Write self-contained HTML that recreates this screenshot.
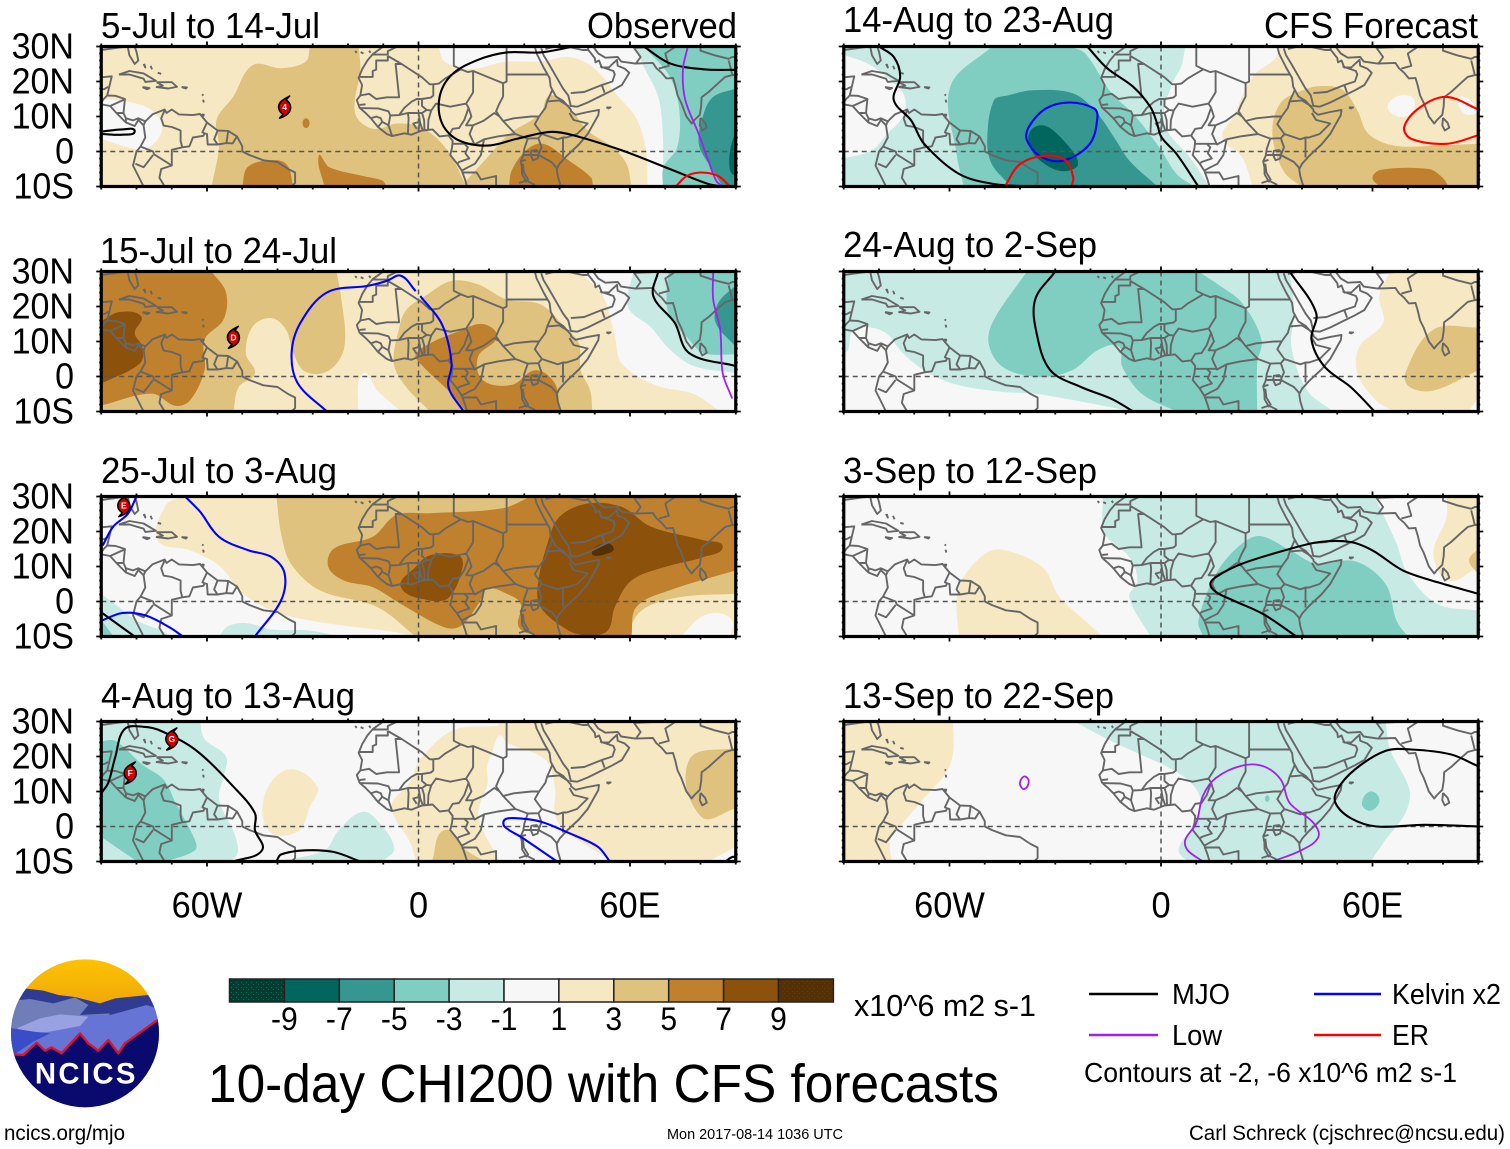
<!DOCTYPE html>
<html lang="en">
<head>
<meta charset="utf-8">
<title>10-day CHI200 with CFS forecasts</title>
<style>
html,body{margin:0;padding:0;background:#fff}
svg{display:block}
text{font-family:"Liberation Sans",sans-serif;fill:#000}
</style>
</head>
<body>
<svg id="figure" xmlns="http://www.w3.org/2000/svg" width="1510" height="1149" viewBox="0 0 1510 1149">
  <defs>
    <pattern id="speck-dark" width="5" height="5" patternUnits="userSpaceOnUse"><rect width="5" height="5" fill="#003c30"/><rect x="1" y="2" width="1" height="1" fill="#0d6b5c"/><rect x="3" y="4" width="1" height="1" fill="#0d6b5c"/></pattern>
    <pattern id="speck-brown" width="5" height="5" patternUnits="userSpaceOnUse"><rect width="5" height="5" fill="#543005"/><rect x="2" y="1" width="1" height="1" fill="#6b3a10"/><rect x="4" y="3" width="1" height="1" fill="#6b3a10"/></pattern>
    <clipPath id="logo-clip"><circle cx="255" cy="250" r="222"/></clipPath>
    <linearGradient id="logo-sun" x1="0" y1="0" x2="0" y2="1"><stop offset="0" stop-color="#ffc400"/><stop offset="1" stop-color="#efa60a"/></linearGradient>
  </defs>

  <g id="panels"></g>

  <g font-size="36">
    <text x="101" y="38" textLength="219" lengthAdjust="spacingAndGlyphs">5-Jul to 14-Jul</text>
    <text x="587" y="38" textLength="150" lengthAdjust="spacingAndGlyphs">Observed</text>
    <text x="100" y="263" textLength="237" lengthAdjust="spacingAndGlyphs">15-Jul to 24-Jul</text>
    <text x="101" y="483" textLength="236" lengthAdjust="spacingAndGlyphs">25-Jul to 3-Aug</text>
    <text x="101" y="708" textLength="254" lengthAdjust="spacingAndGlyphs">4-Aug to 13-Aug</text>
    <text x="843" y="32" textLength="271" lengthAdjust="spacingAndGlyphs">14-Aug to 23-Aug</text>
    <text x="1264" y="38" textLength="214" lengthAdjust="spacingAndGlyphs">CFS Forecast</text>
    <text x="843" y="257" textLength="254" lengthAdjust="spacingAndGlyphs">24-Aug to 2-Sep</text>
    <text x="843" y="483" textLength="254" lengthAdjust="spacingAndGlyphs">3-Sep to 12-Sep</text>
    <text x="843" y="708" textLength="271" lengthAdjust="spacingAndGlyphs">13-Sep to 22-Sep</text>
  </g>

  <g id="logo" transform="translate(0 950) scale(0.3333)">
    <g clip-path="url(#logo-clip)">
      <rect x="20" y="20" width="480" height="150" fill="url(#logo-sun)"/>
      <path fill="#2f3c92" d="M0 140L75 115L130 122L175 135L225 141L300 160L345 145L445 135L500 170V330H0Z"/>
      <path fill="#6f7db8" d="M20 170L60 150L90 147L160 160L225 142L265 165L240 195L330 190L300 240L0 300Z"/>
      <path fill="#6674d6" d="M20 320L120 255L265 195L330 195L440 165L500 185V340H20Z"/>
      <path fill="#98a2e2" d="M50 235L120 205L180 193L265 200L240 228L150 245L90 250Z"/>
      <path fill="#3a4cc6" d="M20 232L100 245L150 250L100 275L45 312H20Z"/>
      <path fill="#0a0a6e" d="M20 312L70 315L110 278L135 302L155 292L185 310L240 250L265 280L295 302L325 270L355 310L375 280L500 190V500H20Z"/>
      <path fill="none" stroke="#e2122a" stroke-width="7" stroke-linejoin="round" d="M20 312L70 315L110 278L135 302L155 292L185 310L240 250L265 280L295 302L325 270L355 310L375 280L500 190"/>
    </g>
    <text x="259" y="400" text-anchor="middle" font-size="88" font-weight="700" letter-spacing="7" style="fill:#fff">NCICS</text>
  </g>

  <g id="colorbar"></g>

  <text x="854" y="1016" font-size="31" textLength="182" lengthAdjust="spacingAndGlyphs">x10^6 m2 s-1</text>
  <text x="208" y="1102" font-size="54" textLength="791" lengthAdjust="spacingAndGlyphs">10-day CHI200 with CFS forecasts</text>

  <g font-size="29">
    <line x1="1089" y1="994" x2="1158" y2="994" stroke="#000" stroke-width="2.4"/>
    <text x="1172" y="1004" textLength="58" lengthAdjust="spacingAndGlyphs">MJO</text>
    <line x1="1314" y1="994" x2="1381" y2="994" stroke="#0000ff" stroke-width="2.4"/>
    <text x="1392" y="1004" textLength="109" lengthAdjust="spacingAndGlyphs">Kelvin x2</text>
    <line x1="1089" y1="1035" x2="1158" y2="1035" stroke="#a020f0" stroke-width="2.4"/>
    <text x="1172" y="1045" textLength="50" lengthAdjust="spacingAndGlyphs">Low</text>
    <line x1="1314" y1="1035" x2="1381" y2="1035" stroke="#ff0000" stroke-width="2.4"/>
    <text x="1392" y="1045" textLength="37" lengthAdjust="spacingAndGlyphs">ER</text>
    <text x="1084" y="1082" font-size="28" textLength="373" lengthAdjust="spacingAndGlyphs">Contours at -2, -6 x10^6 m2 s-1</text>
  </g>

  <text x="4" y="1140" font-size="21" textLength="121" lengthAdjust="spacingAndGlyphs">ncics.org/mjo</text>
  <text x="667" y="1139" font-size="14.5" textLength="176" lengthAdjust="spacingAndGlyphs">Mon 2017-08-14 1036 UTC</text>
  <text x="1189" y="1140" font-size="21" textLength="316" lengthAdjust="spacingAndGlyphs">Carl Schreck (cjschrec@ncsu.edu)</text>
</svg>

<script>
/* ---------- legend / axis values ---------- */
const bandLevels = [-9, -7, -5, -3, -1, 0, 1, 3, 5, 7, 9];
const bandColors = ['#003c30', '#01665e', '#35978f', '#80cdc1', '#c7eae5', '#f7f7f7', '#f6e8c3', '#dfc27d', '#bf812d', '#8c510a', '#543005'];
const colorbarLabels = ['-9', '-7', '-5', '-3', '-1', '1', '3', '5', '7', '9'];
const latTicks = [30, 20, 10, 0, -10];
const latTickLabels = ['30N', '20N', '10N', '0', '10S'];
const lonTicks = [-60, 0, 60];
const lonTickLabels = ['60W', '0', '60E'];

/* ---------- geography (lon, lat) ---------- */
const coastlines = [
  [[-90,21.2],[-87,21.5],[-87.5,19.5],[-88.3,16],[-86,15.9],[-83.3,15],[-83.7,11],[-83,9.5],[-81,8.9],[-79.5,9.5],[-77.5,8.6],[-75.5,10.6],[-74,11.2],[-72,12],[-71.5,11],[-70,12],[-68,10.6],[-64,10.4],[-62,10.7],[-60,8.3],[-57,6],[-54,5.9],[-51.5,4.3],[-50,1.5],[-50,0],[-48,-1],[-44,-2.5],[-40,-3],[-37,-5],[-35,-6],[-35,-9],[-36,-10]],
  [[-90,29],[-85,29.7],[-82.5,30]],
  [[-82.5,30],[-82,27.5],[-80.5,25],[-79.5,26],[-80,28.5],[-80.5,30]],
  [[-90,13.5],[-87.5,13],[-85.7,11],[-83,8.3],[-80.5,7.3],[-79.5,9],[-78,7.5],[-77.5,4],[-78.8,1.5],[-80,0],[-81,-4],[-79.5,-7],[-78,-10]],
  [[-85,22],[-82,23],[-78,22.3],[-74.5,20.2],[-77.5,19.9],[-78,20.8],[-82,22],[-85,22]],
  [[-74.3,19.8],[-70,19.8],[-68.5,18.5],[-71,18],[-74.3,18.4],[-72.5,18.8],[-74.3,19.8]],
  [[-78.3,18.4],[-76.3,18.1],[-77,17.8],[-78.3,18.4]],
  [[-67.2,18.4],[-65.7,18.3],[-66,18],[-67.2,18.4]],
  [[-78,25],[-77.5,24],[-77.8,25]],[[-76,24.5],[-75.6,23.5]],[[-74,22.5],[-73,22.2]],
  [[-61.4,16.3],[-61,16]],[[-61.1,14.8],[-60.9,14]],
  [[-61.5,10.7],[-61,10.2],[-60.9,10.8]],
  [[-10,30],[-13,27.8],[-14.5,26],[-16,23.5],[-17,21],[-16,19],[-16.5,16],[-17.5,14.7],[-16.7,12.5],[-15,11],[-13.5,9.5],[-11.5,7],[-9,5],[-7.5,4.4],[-4,5.2],[-2,4.8],[1,6],[4,6.3],[6,4.3],[8.5,4.6],[9.7,3],[9.5,1],[9,-1],[11,-3.5],[12.3,-5.5],[13.2,-8],[13.8,-10]],
  [[33,30],[33.5,28],[34,27],[35.5,24],[37.2,21],[37.5,18.5],[39,15.7],[41,14.5],[43.2,12],[43.3,11.5],[44.5,10.5],[48,11.3],[51.2,11.9],[51,10.4],[48,5],[45.5,2],[42,-1.3],[40,-3.5],[39.2,-5],[39.5,-7],[40.4,-10]],
  [[34.8,29.5],[35.5,27.5],[37,25],[39,21.5],[41,18],[42.5,16],[43.2,13],[45,12.8],[48,14],[52,16],[55,17.5],[57.7,19],[59.8,22.5],[58.5,23.7],[56.5,24.5],[56.3,26.2],[55,25],[54,24],[52,24],[51.2,26],[50.2,25.5],[50,26.7],[48.2,29],[48,30]],
  [[49.5,30],[51,28],[53,26.8],[56.5,27],[57.5,25.7],[61.5,25.1],[66.5,25.3],[67.5,23.8],[69,22.5],[70.3,20.9],[72.2,21],[72.8,19],[73.5,16],[74.5,14],[76,10],[77.5,8],[78.3,9],[79.8,10.5],[80.2,13],[80.3,15.5],[82.3,17],[85,19.5],[87,21.3],[88.5,21.7],[90,22]],
  [[80,9.6],[81.3,8.2],[81.8,6.8],[80.5,6],[79.8,7.5],[80,9.6]],
  [[53.3,12.6],[54.5,12.6],[53.9,12.3],[53.3,12.6]],
  [[-18,28.7],[-17.5,28.2]],[[-16.4,28.4],[-15.6,28]],[[-14,28.8],[-13.6,28.2]],
  [[31.8,-1],[32,0.2],[33.5,0.4],[34.2,-0.3],[33.8,-2],[32.5,-2.5],[31.8,-1]],
  [[29.3,-3.5],[29.4,-6.5],[30.6,-8.6],[31.1,-8],[29.9,-6],[29.6,-3.5]],
  [[0,6],[0.3,8.5],[-1.5,8],[-0.5,6.5]]
];
const borders = [
  [[-72,11.8],[-73,9.5],[-72.3,7.4],[-70,7],[-67.5,6],[-67.5,3],[-67,1.2],[-70,0.5],[-70,-4]],
  [[-78.8,1.4],[-75.3,0],[-75,-0.8],[-70,-4],[-73,-5],[-73.5,-7.5],[-72,-10]],
  [[-80.3,-3.5],[-78,-4.5],[-75.3,-1]],
  [[-67,1.2],[-65,1.5],[-64,4],[-61,4.5],[-60.7,5.2],[-61.3,5.5],[-60,8.3]],
  [[-60.7,5.2],[-60,5],[-59.8,2],[-57,2],[-54.5,2.4],[-52.7,2.3],[-51.5,4.3]],
  [[-57,6],[-58,3.5],[-57,2]],[[-54,5.8],[-54.5,2.4]],
  [[-83.7,11],[-85.7,11]],[[-83.1,15],[-87.5,13]],[[-88.3,16],[-89.3,15],[-90,14]],[[-83,9.5],[-83,8.3]],[[-77.5,8.6],[-78,7.5]],[[-88,18.5],[-89.2,17.8],[-90,17.8]],
  [[-13,27.7],[-8.7,27.7],[-8.7,28.7],[-6,30]],
  [[-8.7,27.3],[-8.7,26],[-12,26],[-12,23.4],[-13,23],[-13,21.3],[-17,21.3]],
  [[-8.7,27.3],[-4.8,25],[-6.5,25],[-5.5,15.5],[-9,15.5],[-12,15],[-14,16.5],[-16.5,16]],
  [[-4.8,25],[1,21.2],[3.2,19.2],[4.2,19.2],[5.8,19.4],[7.5,20.8],[12,23.5],[14,22.7],[15.5,23]],
  [[12,23.5],[10,24.5],[10,30]],
  [[4.2,19.2],[4.2,16],[3.5,15.4],[1,15],[-0.5,15],[-2,14.2],[-4,12.5],[-5.5,10.4],[-8,10.3],[-8.5,11.5],[-11.5,12.3],[-16.7,12.4]],
  [[-16.7,13.3],[-15,13.5]],
  [[-13.5,9.5],[-12,10],[-10.7,9.5],[-10.3,8.5],[-11.5,7]],[[-10.3,8.5],[-8.5,7.5],[-7.5,4.4]],[[-8,10.3],[-8.5,7.5]],
  [[-3,5],[-2.8,9.5],[-3,11]],[[-5.5,10.4],[-3,11],[1,11],[2.3,11.9],[1,13],[1,15]],
  [[1.2,6.1],[0.5,8],[0,11]],[[1.7,6.2],[1.6,9],[1,11]],[[2.7,6.3],[2.8,9],[3.6,11.7]],
  [[2.3,11.9],[3.6,11.7],[5,13.7],[9,12.8],[13.5,13.7]],
  [[8.6,4.6],[9.7,6.5],[11.5,6.7],[13,9],[14.2,12.5],[13.5,13.7],[15.5,16.9],[15.5,23],[24,19.5],[25,20],[25,30]],
  [[24,19.5],[24,15.7],[22.9,13.6],[22,11.5],[23,10],[24,8.7],[27.5,5]],
  [[14.2,12.5],[15,10],[13.5,7.5],[15.5,7.5],[18.5,8.8],[21.5,11],[23,10]],
  [[25,22],[36.8,22]],
  [[15.5,7.5],[14.5,5],[15.9,2],[18.6,3.5],[22.5,4.3],[27.5,5],[31,3.7],[34,3.8],[35,5]],
  [[9.8,2.2],[16,2.2]],[[13,2.2],[14,1.2],[13.3,-0.5],[14.4,-2],[11.5,-3],[11,-3.5]],
  [[18.6,3.5],[17.7,-1],[16,-3.5],[14,-4.5],[12.2,-5.5]],
  [[24,8.7],[27,9.5],[32,10],[34.2,10]],
  [[38,17.7],[36.5,14.3],[36,12.5],[34.2,10],[33,7.8],[35,5],[39.5,3.5],[41,4],[42,4],[45,5],[48,8],[44,9],[42.8,11]],
  [[36.5,14.3],[40,14.6],[42.8,12.8]],
  [[41,4],[41,-1.7]],
  [[34,3.8],[34.9,1.2],[34,-1],[37.7,-3],[39.2,-4.7]],
  [[31,3.7],[30,0.8],[29.7,-1.2],[29,-2.8],[29.3,-4.3]],[[29.7,-1],[34,-1]],[[30.5,-2.4],[29,-2.8]],
  [[12.2,-6],[16.5,-6],[17.7,-8],[22,-7],[22,-10]],[[28.5,-9],[30.7,-8.3]],[[31,-8.5],[33,-9.5]],
  [[36,29.3],[39,30]],[[42,30],[46.5,29],[48,29]],
  [[43.2,16.7],[47,17],[52,19],[55,20],[55.7,22],[55.3,23],[51.5,24.3]],[[52.8,16.8],[52,19]],
  [[61.6,25],[63,27],[61,29.8],[60.9,30]],[[61,29.6],[66,29.8],[67,30]],
  [[68.2,23.7],[71,24.5],[70,28],[73,30]],
  [[80,30],[80,28.8],[84,27.5],[88,26.5],[89,27],[90,27]],[[88,26],[88.5,24],[89,22]]
];

/* ---------- panel: 5-Jul to 14-Jul ---------- */
const jul05Levels = [1, 0, 3, 3, 5, 5, 5, 5, -1, -3, -5, -7];
const jul05Rings = [
  [[5.7,30],[7.4,25.7],[14.8,23.6],[25,25.7],[34.6,25.7],[42.7,27],[49.6,24],[56.4,16],[61.8,9.5],[64.5,.6],[65,-10],[-90,-10],[-90,30]],
  [[-90,15],[-82.5,14.2],[-75.7,11.8],[-72.7,6.5],[-77,.8],[-82.5,1.2],[-90,3.6]],
  [[-30.8,30],[-17,30],[-16.5,23.3],[-18,11],[-13,6.5],[-6,8],[.5,7],[6,3],[10,-2.6],[13.5,-10],[-58.7,-10],[-56.6,1.2],[-57.3,9],[-52.6,15.6],[-47,24.7],[-39,23.8],[-32,25.7]],
  [[37.3,16],[42.7,12.7],[48,6],[55,1.2],[59,-3.5],[60.4,-10],[12,-10],[19.6,-1.6],[25.7,5],[34.6,10.8]],
  [[-50,-10],[-48.5,-4.5],[-43,-2.6],[-37.6,-3.5],[-35.5,-10]],
  [[-28.3,-1.2],[-25.3,-4.5],[-15.8,-7],[-10.3,-8.3],[-9,-10],[-26.7,-10]],
  [[25.7,-10],[26.4,-5.5],[30.5,.3],[35.3,2.2],[42.7,-2.6],[48.9,-7.4],[49.5,-10]],
  [[-31.9,9.5],[-30.9,8.1],[-31.9,6.7],[-32.9,8.1]],
  [[61.1,30],[63.9,24.2],[68,15.6],[69.3,5],[69.3,-10],[90,-10],[90,30]],
  [[63.9,30],[71.3,21.4],[74,11.8],[73.4,1.2],[69.5,-4.5],[69.3,-10],[90,-10],[90,30]],
  [[90,18],[83.6,15.6],[80.9,10.8],[79.5,2.2],[82.9,-4.5],[86.3,-10],[90,-10]],
  [[90,6],[88.4,.3],[88.4,-5.5],[90,-7.4]]
];
const jul05LineKinds = ['mjo', 'mjo', 'mjo', 'low', 'er'];
const jul05Lines = [
  [[63.9,30],[71.3,25.2],[80.9,23.5],[90,23.3]],
  [[44,30],[34.6,28.3],[25,28.3],[16.9,26.2],[9.4,21.9],[6,15.6],[6.7,8],[11.4,3.2],[19.6,1.7],[27.8,3.6],[37.3,5.6],[44,4.6],[57.7,.3],[71.3,-5],[82.2,-9.3],[86.3,-10]],
  [[-90,5.7],[-84,6.3],[-80.5,5.8],[-84,4.8],[-90,5]],
  [[76.4,30],[75,23.3],[75.7,14.7],[79.5,5],[82.2,-2.6],[84.5,-8.4],[86.3,-10]],
  [[73,-10],[76.1,-7],[80.2,-6],[85,-7],[88.4,-10]]
];
const jul05StormLabels = ['4'];
const jul05StormLons = [-38];
const jul05StormLats = [12.7];

/* ---------- panel: 15-Jul to 24-Jul ---------- */
const jul15Levels = [1, 0, 3, 3, 5, 7, 5, -1, -3, -5];
const jul15Rings = [
  [[45.5,30],[52.3,23],[55.7,11.4],[57.7,3.7],[67.3,-2.5],[78.1,-5],[85.6,-10],[-90,-10],[-90,30]],
  [[-17.2,-10],[-15.8,.9],[-11.7,-4],[-4.9,-10]],
  [[-90,30],[-23.3,30],[-22,23],[-21,8.6],[-25.3,1.8],[-32,1.3],[-35.5,6.6],[-37.6,13.4],[-41.7,16.7],[-47,14.3],[-49,6.6],[-46.4,.9],[-51,-3],[-52.5,-10],[-90,-10]],
  [[9.4,27.3],[16.9,26.3],[25,22],[34.6,20.6],[41.3,14.3],[45.5,9.5],[46,1.8],[48.7,-4],[49.3,-10],[3.3,-10],[-3.5,-3],[-7,3.7],[-5.6,13.4],[-3.5,19],[1.9,23]],
  [[-58.7,30],[-54.6,24],[-55.3,16.3],[-60.7,10.5],[-60.7,1.8],[-64.8,-6.8],[-68.9,-8.4],[-75.7,-4.9],[-90,-8.3],[-90,30]],
  [[-90,15.8],[-85,18.4],[-78.7,17.2],[-80.5,12.4],[-78.4,8.6],[-79,3.8],[-90,-2]],
  [[18.2,15],[22.3,11.4],[16.9,5.7],[18.2,-1],[26.4,-2.4],[33.2,1.8],[38.7,-2],[40,-10],[13.5,-10],[9.4,-5],[.5,3.7],[-.8,6.2],[3.3,9.5],[11.4,12.9]],
  [[61,30],[59.4,20],[66,14],[71,8],[78,3],[90,1],[90,30]],
  [[71,30],[70.4,25],[71,18],[76.8,10.5],[80.9,6.7],[90,6.3],[90,30]],
  [[90,26],[85,21],[84.3,15.3],[90,8.5]]
];
const jul15LineKinds = ['mjo', 'low', 'kelvin', 'kelvin'];
const jul15Lines = [
  [[68,30],[66.6,23],[72.7,15.3],[76.8,6.7],[90,3]],
  [[83.6,30],[83.6,22],[85.6,13.4],[86.3,1],[89,-6.3]],
  [[-26,-10],[-34.2,-2],[-36,6.6],[-33.5,15.3],[-26,24],[-14.4,25.9],[-9,27.3],[-5,28.8],[-.8,24.4]],
  [[.5,23],[6.7,14.8],[9.4,3.7],[8.5,-3],[12.8,-10]]
];
const jul15StormLabels = ['D'];
const jul15StormLons = [-52.5];
const jul15StormLats = [11.2];

/* ---------- panel: 25-Jul to 3-Aug ---------- */
const jul25Levels = [1, 0, 3, 5, 7, 7, 9, -1, -1, -3];
const jul25Rings = [
  [[-66.9,30],[-71.6,27.6],[-74,17.5],[-64.8,14.6],[-56.6,10.3],[-49.8,2.2],[-39,-3.5],[-24,-6.5],[-6.3,-8.8],[-2,-10],[90,-10],[90,30]],
  [[74.5,-10],[80,-4.5],[85,-3.3],[89,-5.5],[88.5,-10]],
  [[-40.3,30],[-39,19.5],[-36.2,10.8],[-28,3.2],[-11.7,-1.6],[-.8,-10],[59,-10],[63.2,-2.6],[74,1.2],[90,2.2],[90,30]],
  [[31.9,30],[23.7,26.6],[3.3,25.2],[-6.3,24.7],[-13,18.5],[-24,15.1],[-25.6,9.9],[-21.2,6],[-13,4.1],[-5,-.7],[7.4,-7.4],[12,-7],[17,-.7],[19.6,3.6],[25,2.2],[29,-.7],[28.5,-7.4],[34.6,-10],[60.4,-10],[61.8,-1.6],[71.3,3.2],[90,8.9],[90,30]],
  [[3.3,13.2],[11.4,13.2],[12.5,9.9],[8.7,1.2],[3.3,.3],[-5,4.1],[-.8,9.9]],
  [[48,28],[57.7,27],[65.9,21.4],[80.9,17.5],[86.3,15.6],[80.9,12.7],[70,9.9],[60.4,6],[55.7,-1.6],[53.6,-8.4],[48,-10],[42.7,-8.4],[34.6,-1.6],[33.9,5],[36.6,16.6],[40,24.2]],
  [[49.6,15.1],[53.6,16.6],[55.4,15],[53.6,13.7],[49.6,13.2]],
  [[-90,2.2],[-85,-1.6],[-79.8,-5.5],[-73,-8.3],[-70,-10],[-90,-10]],
  [[-56.6,-10],[-54,-7],[-48.6,-6.2],[-41.7,-8],[-30.8,-8.3],[-22.6,-10]],
  [[-90,-5.3],[-86.5,-10],[-90,-10]]
];
const jul25LineKinds = ['kelvin', 'kelvin', 'kelvin', 'mjo'];
const jul25Lines = [
  [[-66.2,30],[-62,25.7],[-56.6,18.5],[-48.5,14.7],[-41.7,12.7],[-38,8],[-39,.3],[-46.4,-10]],
  [[-80,30],[-82.5,25],[-86.6,21.4],[-89.6,16]],
  [[-90,-5.5],[-84,-3.3],[-77.4,-4],[-70.6,-7.4],[-66.8,-10]],
  [[-90,-3.1],[-80.5,-10]]
];
const jul25StormLabels = ['E'];
const jul25StormLons = [-83.6];
const jul25StormLats = [27.4];

/* ---------- panel: 4-Aug to 13-Aug ---------- */
const aug04Levels = [-1, -3, -1, 1, 1, 3, 3];
const aug04Rings = [
  [[-62,30],[-60.7,25],[-54.6,20],[-55.3,14.3],[-56.6,7.7],[-51.9,-3],[-51.9,-8.7],[-58,-10],[-90,-10],[-90,30]],
  [[-90,24.4],[-85.9,24.4],[-78.4,17.7],[-72.3,13.4],[-68.9,6.7],[-63.4,-3.9],[-63.4,-6.8],[-71.6,-10],[-79.8,-10],[-90,-3]],
  [[-40.3,-10],[-26.7,-6.8],[-22.6,-1],[-15.8,4.2],[-11,.9],[-6.9,-6.3],[-10.3,-10]],
  [[-36.9,16.3],[-28.7,11.5],[-30.8,5.7],[-34.2,-1.4],[-42.3,-1.4],[-43.7,8.8]],
  [[23,30],[90,30],[90,-5.8],[82.2,-10],[55,-10],[41.4,-1],[38.7,3.5],[38.7,11.2],[36,19],[25,24],[23,26],[21,21.5],[19.4,17],[19.6,12.4],[17,3],[23,-10],[-.8,-10],[-2.2,-4.9],[-7.6,5.8],[-2.5,12.5],[.5,19.2],[10,27.6],[22.3,28.8]],
  [[76.8,19],[90,22.5],[90,5.2],[80.2,2.8]],
  [[7.4,-1],[13.5,-6.8],[18.9,-10],[3.8,-10]]
];
const aug04LineKinds = ['mjo', 'mjo', 'mjo', 'kelvin'];
const aug04Lines = [
  [[-90,9.5],[-88,12.5],[-86,20],[-83.4,27.8],[-78,28.5],[-73,27.3],[-63.4,22],[-52.6,11.5],[-46.4,3.8],[-46.4,-1],[-44.4,-6.8],[-52.6,-10]],
  [[-40.3,-10],[-39,-8],[-32,-6.8],[-24,-7.3],[-16.5,-10]],
  [[87,-10],[89,-8.7],[90,-8.7]],
  [[39.3,-10],[29.1,-3],[24.4,0],[24.4,1.9],[27,2.4],[34.6,1.4],[42.7,-1.9],[50.9,-5.8],[54.3,-10]]
];
const aug04StormLabels = ['F', 'G'];
const aug04StormLons = [-81.8, -70];
const aug04StormLats = [15.3, 25];

/* ---------- panel: 14-Aug to 23-Aug ---------- */
const aug14Levels = [-1, 0, -3, -5, -7, 1, 0, 0, 3, 5];
const aug14Rings = [
  [[6.9,30],[5.7,24.2],[3.2,19.5],[.7,10.8],[2,5.5],[8.1,-1.6],[13.7,-10],[-90,-10],[-90,30]],
  [[-90,27.6],[-83,25],[-76.8,20.4],[-72.7,15.6],[-73.3,9.9],[-77.7,5],[-82,.3],[-90,-2]],
  [[-48,30],[-59.8,18.5],[-58,-.7],[-56,-10],[9.4,-10],[4.4,-6.4],[-.5,1.2],[-7.9,10.8],[-14,16.6],[-21.5,28],[-25.8,30]],
  [[-36.3,17.5],[-25,16.6],[-18.4,11.3],[-12.8,3.2],[-9,-2.6],[-1,-10],[-42.5,-10],[-48,-3.6],[-49.3,3.2],[-47.4,14.6],[-43.5,16]],
  [[-33.8,7.5],[-30,5.5],[-24,-1.6],[-24,-4.5],[-28.9,-5.5],[-35,-2],[-37.5,2.2],[-37,6]],
  [[32.8,30],[32.8,27],[26,21.4],[20.5,9.9],[17.4,4.1],[23,-1.6],[26,-10],[90,-10],[90,30]],
  [[64.3,12.7],[67.4,15.9],[71.7,15.1],[71,11],[67.4,9.9]],
  [[84.7,15.6],[89.6,11.8],[86,10.8]],
  [[45,18.7],[51.4,17.7],[55.7,11.8],[58.8,5.1],[66.2,1.7],[78.5,1.7],[90,2.2],[90,-10],[39.6,-10],[34.7,-5.5],[31.6,5],[33.8,13.7],[40.2,17.5]],
  [[60,-7.4],[62.5,-5.2],[76,-5],[79.8,-7.4],[81.6,-10],[61.9,-10]]
];
const aug14LineKinds = ['mjo', 'mjo', 'kelvin', 'er', 'er'];
const aug14Lines = [
  [[-80,30],[-75.8,27],[-74,21.4],[-75.8,14.7],[-70.9,8.9],[-67.2,2.2],[-57.3,-6.4],[-47.4,-9.3],[-36.3,-10]],
  [[-20.9,30],[-15.3,23.8],[-7.9,18.5],[-3,12.7],[-1.1,8],[.1,4.1],[4.4,-.7],[10.6,-10]],
  [[-25.8,14],[-19,12.3],[-18,9.9],[-20.2,2.2],[-27.7,-2.6],[-33.8,-1.6],[-38,3.2],[-37.5,7],[-32.6,12.3],[-25.8,14]],
  [[-44.3,-10],[-40,-3.6],[-32.6,-1.2],[-27,-2.6],[-24.9,-7.4],[-25.4,-10]],
  [[90,12],[81,15.6],[73.6,12.7],[69,7],[71,3.6],[81,2.2],[90,4.6]]
];
const aug14StormLabels = [];
const aug14StormLons = [];
const aug14StormLats = [];

/* ---------- panel: 24-Aug to 2-Sep ---------- */
const aug24Levels = [-1, -3, 1, 3];
const aug24Rings = [
  [[-90,30],[36.5,30],[37.8,18.2],[37,8.5],[41.5,-4],[48.9,-10],[-7.9,-10],[-35,-5],[-45,-4.4],[-57.3,-2.5],[-65.9,.9],[-73.2,6.6],[-78.8,12.9],[-87,13.4],[-88.8,7.6],[-90,6.6]],
  [[-38,30],[-47.4,16.2],[-48.9,9.5],[-45,2.8],[-35,-.1],[-25.2,1.8],[-17.8,7.6],[-12,8.6],[-11,2.8],[-5.4,-5],[4.4,-10],[27.3,-10],[27.3,3.8],[28.5,10.5],[23,21],[16.8,25.9],[10.6,30]],
  [[65,30],[61.9,23],[63,15.3],[56.3,8.6],[55.7,.9],[61.2,-7],[66.2,-10],[87.2,-10],[90,-6],[90,30]],
  [[77.3,13.4],[90,14],[90,1.8],[77.3,-4],[70.5,-3],[69.3,1]]
];
const aug24LineKinds = ['mjo', 'mjo'];
const aug24Lines = [
  [[-30,30],[-35.7,22],[-35.3,12.4],[-31.4,1.8],[-22.7,-3],[-14,-6.4],[-7.9,-10]],
  [[36.5,30],[44,18.2],[42.7,10.5],[46.4,2.8],[53.8,-3],[60.6,-10]]
];
const aug24StormLabels = [];
const aug24StormLons = [];
const aug24StormLats = [];

/* ---------- panel: 3-Sep to 12-Sep ---------- */
const sep03Levels = [-1, -3, 1, 1, 3];
const sep03Rings = [
  [[-16.5,30],[-16,19.5],[-9,12.7],[-6.7,6],[-9,1.2],[-3,-10],[90,-10],[90,-2.6],[78.5,-.7],[70,8],[66.8,16.6],[60.6,30]],
  [[28,18.7],[36.6,14.6],[44,10.8],[55,11.5],[63.7,5],[66.8,-5.5],[70,-10],[11.9,-10],[10.6,-5.5],[15.6,7.9],[22.3,16]],
  [[-57.3,-10],[-58,.3],[-56,7],[-49.8,13.7],[-44.8,14.8],[-33.7,9.9],[-28.8,1.2],[-22.7,-4.5],[-16.5,-10]],
  [[81,30],[81,24],[77.3,13.7],[81.6,6],[90,9.9],[90,30]],
  [[90,15.1],[87.4,11.8],[90,7.8]]
];
const sep03LineKinds = ['mjo'];
const sep03Lines = [
  [[38.4,-10],[29,-3.6],[20.5,.3],[15.6,2.7],[14,5],[15.6,7],[23,10.8],[36.5,15],[45,17],[53.8,17],[60,14.6],[68.6,8.9],[78.5,5.5],[90,2.2]]
];
const sep03StormLabels = [];
const sep03StormLons = [];
const sep03StormLats = [];

/* ---------- panel: 13-Sep to 22-Sep ---------- */
const sep13Levels = [-1, -3, -3, 1];
const sep13Rings = [
  [[-24.6,30],[-15.3,25],[-7.9,21.5],[3.2,16.3],[9.4,11.5],[11.2,6.7],[8.8,0],[5,-6.7],[7.5,-10],[59.4,-10],[63.7,-3.8],[69.3,3.8],[70.5,10.5],[65,22],[63.7,30]],
  [[59.4,10],[62,7.5],[59.4,4.5],[57,6.5]],
  [[30.1,8.9],[30.8,8],[30.1,7],[29.5,8]],
  [[-90,30],[-59,30],[-59,21],[-61,15.3],[-66,9.5],[-73.3,.9],[-76.8,-3.8],[-76.4,-10],[-90,-10]]
];
const sep13LineKinds = ['low', 'low', 'mjo'];
const sep13Lines = [
  [[-38.5,14.3],[-37.5,12.8],[-38.8,10.7],[-40,12],[-39.6,13.6],[-38.5,14.3]],
  [[11.9,-10],[7.5,-6.7],[6.9,-3.8],[10,1],[11.9,8.7],[15.6,13.9],[23,17.4],[29.1,17.2],[34,13.4],[36.5,6.7],[43.3,1],[44.6,-3.1],[39.6,-6.9],[31.6,-10]],
  [[90,17.2],[82.2,20.6],[71,22],[63.7,21.6],[55,16.3],[50,10.5],[49.5,6.7],[53.8,2.4],[61.2,0],[74.8,.5],[90,0]]
];
const sep13StormLabels = [];
const sep13StormLons = [];
const sep13StormLats = [];

/* ---------- wiring of panels to their arrays ---------- */
const panelOrder = [
  {id:'jul05',col:0,row:0,levels:jul05Levels,rings:jul05Rings,kinds:jul05LineKinds,lines:jul05Lines,sl:jul05StormLabels,slon:jul05StormLons,slat:jul05StormLats},
  {id:'jul15',col:0,row:1,levels:jul15Levels,rings:jul15Rings,kinds:jul15LineKinds,lines:jul15Lines,sl:jul15StormLabels,slon:jul15StormLons,slat:jul15StormLats},
  {id:'jul25',col:0,row:2,levels:jul25Levels,rings:jul25Rings,kinds:jul25LineKinds,lines:jul25Lines,sl:jul25StormLabels,slon:jul25StormLons,slat:jul25StormLats},
  {id:'aug04',col:0,row:3,levels:aug04Levels,rings:aug04Rings,kinds:aug04LineKinds,lines:aug04Lines,sl:aug04StormLabels,slon:aug04StormLons,slat:aug04StormLats},
  {id:'aug14',col:1,row:0,levels:aug14Levels,rings:aug14Rings,kinds:aug14LineKinds,lines:aug14Lines,sl:aug14StormLabels,slon:aug14StormLons,slat:aug14StormLats},
  {id:'aug24',col:1,row:1,levels:aug24Levels,rings:aug24Rings,kinds:aug24LineKinds,lines:aug24Lines,sl:aug24StormLabels,slon:aug24StormLons,slat:aug24StormLats},
  {id:'sep03',col:1,row:2,levels:sep03Levels,rings:sep03Rings,kinds:sep03LineKinds,lines:sep03Lines,sl:sep03StormLabels,slon:sep03StormLons,slat:sep03StormLats},
  {id:'sep13',col:1,row:3,levels:sep13Levels,rings:sep13Rings,kinds:sep13LineKinds,lines:sep13Lines,sl:sep13StormLabels,slon:sep13StormLons,slat:sep13StormLats}
];

/* ---------- layout and drawing ---------- */
const NS = 'http://www.w3.org/2000/svg';
const colZero = [418.5, 1161];
const rowTop = [46.5, 271.5, 496.5, 721.5];
const pxPerLon = 3.525;
const pxPerLat = 3.5;
const lineStyle = {mjo:['#000000',2.1], kelvin:['#0000ff',2.1], low:['#a020f0',1.8], er:['#ff0000',2.1]};

function el(tag, parent, attrs) {
  const n = document.createElementNS(NS, tag);
  for (const k in attrs) n.setAttribute(k, attrs[k]);
  parent.appendChild(n);
  return n;
}
function fillFor(level) { return bandColors[bandLevels.indexOf(level)]; }
function onEdge(p) { return p[0] <= -90 || p[0] >= 90 || p[1] <= -10 || p[1] >= 30; }

function smoothPath(points, xOf, yOf, closed) {
  const n = points.length;
  const pts = points.map(p => [xOf(p[0]), yOf(p[1])]);
  const edge = points.map(onEdge);
  const last = closed ? n : n - 1;
  let d = 'M' + pts[0][0].toFixed(1) + ' ' + pts[0][1].toFixed(1);
  function tangent(i) {
    const a = pts[(i - 1 + n) % n], b = pts[(i + 1) % n];
    const dx = b[0] - a[0], dy = b[1] - a[1], len = Math.hypot(dx, dy) || 1;
    return [dx / len, dy / len];
  }
  for (let i = 0; i < last; i++) {
    const j = (i + 1) % n;
    const a = pts[i], b = pts[j];
    if (edge[i] && edge[j]) { d += 'L' + b[0].toFixed(1) + ' ' + b[1].toFixed(1); continue; }
    const seg = Math.hypot(b[0] - a[0], b[1] - a[1]);
    let c1, c2;
    if (edge[i] || (!closed && i === 0)) c1 = [a[0] + (b[0] - a[0]) / 3, a[1] + (b[1] - a[1]) / 3];
    else { const t = tangent(i); c1 = [a[0] + t[0] * seg / 3, a[1] + t[1] * seg / 3]; }
    if (edge[j] || (!closed && j === n - 1)) c2 = [b[0] - (b[0] - a[0]) / 3, b[1] - (b[1] - a[1]) / 3];
    else { const t = tangent(j); c2 = [b[0] - t[0] * seg / 3, b[1] - t[1] * seg / 3]; }
    d += 'C' + c1[0].toFixed(1) + ' ' + c1[1].toFixed(1) + ' ' + c2[0].toFixed(1) + ' ' + c2[1].toFixed(1) + ' ' + b[0].toFixed(1) + ' ' + b[1].toFixed(1);
  }
  return closed ? d + 'Z' : d;
}
function polyPath(points, xOf, yOf) {
  return points.map((p, i) => (i ? 'L' : 'M') + xOf(p[0]).toFixed(1) + ' ' + yOf(p[1]).toFixed(1)).join('');
}

const panelsRoot = document.getElementById('panels');
const defsRoot = document.querySelector('svg defs');

panelOrder.forEach(function (panel) {
  const x0 = colZero[panel.col], y0 = rowTop[panel.row];
  const xOf = lon => x0 + lon * pxPerLon;
  const yOf = lat => y0 + (30 - lat) * pxPerLat;

  const clip = el('clipPath', defsRoot, {id: 'clip-' + panel.id});
  el('rect', clip, {x: xOf(-90), y: yOf(30), width: 180 * pxPerLon, height: 40 * pxPerLat});

  const g = el('g', panelsRoot, {});
  
  

  const plot = el('g', g, {'clip-path': 'url(#clip-' + panel.id + ')'});

  const bg = el('rect', plot, {x: xOf(-90), y: yOf(30), width: 180 * pxPerLon, height: 40 * pxPerLat, fill: fillFor(0)});
  
  

  panel.rings.forEach(function (ring, i) {
    const shade = el('path', plot, {d: smoothPath(ring, xOf, yOf, true), fill: fillFor(panel.levels[i])});
    
    
  });

  const eq = el('line', plot, {x1: xOf(-90), y1: yOf(0), x2: xOf(90), y2: yOf(0), stroke: '#555', 'stroke-width': 1.5, 'stroke-dasharray': '5 4'});
  
  
  const mer = el('line', plot, {x1: xOf(0), y1: yOf(30), x2: xOf(0), y2: yOf(-10), stroke: '#555', 'stroke-width': 1.5, 'stroke-dasharray': '5 4'});
  
  

  const coast = el('path', plot, {d: coastlines.map(c => polyPath(c, xOf, yOf)).join(''), fill: 'none', stroke: '#666', 'stroke-width': 1.9, 'stroke-linejoin': 'round'});
  
  
  const border = el('path', plot, {d: borders.map(c => polyPath(c, xOf, yOf)).join(''), fill: 'none', stroke: '#666', 'stroke-width': 1.9, 'stroke-linejoin': 'round'});
  
  

  panel.lines.forEach(function (line, i) {
    const style = lineStyle[panel.kinds[i]];
    const first = line[0], end = line[line.length - 1];
    const closed = first[0] === end[0] && first[1] === end[1];
    const pts = closed ? line.slice(0, -1) : line;
    const contour = el('path', plot, {d: smoothPath(pts, xOf, yOf, closed), fill: 'none', stroke: style[0], 'stroke-width': style[1]});
    
    
  });

  panel.sl.forEach(function (label, i) {
    const storm = el('g', plot, {transform: 'translate(' + xOf(panel.slon[i]).toFixed(1) + ' ' + yOf(panel.slat[i]).toFixed(1) + ')'});
    
    
    el('path', storm, {d: 'M5 -11C2 -9 -6 -6.5 -6 0C-6 3.5 -3.5 6 -1.5 7C-2.5 8.5 -4 10 -5 11C0 9.5 6 6.5 6 0C6 -3.5 3.5 -6 1.5 -7C2.5 -8.5 4 -10 5 -11Z', fill: '#d40000', stroke: '#000', 'stroke-width': 1.6, 'stroke-linejoin': 'round'});
    const t = el('text', storm, {y: 3, 'text-anchor': 'middle', 'font-size': 8.5, 'font-weight': 700});
    t.textContent = label;
    t.style.fill = '#fff';
    
    
  });

  /* frame and ticks */
  const axes = el('g', g, {stroke: '#000', fill: 'none'});
  
  
  let ticks = '';
  for (let lon = -90; lon <= 90; lon += 10) {
    const len = lon % 60 === 0 ? 5 : 3;
    ticks += 'M' + xOf(lon) + ' ' + (yOf(30) - len) + 'V' + yOf(30) + 'M' + xOf(lon) + ' ' + yOf(-10) + 'V' + (yOf(-10) + len);
  }
  for (let lat = -10; lat <= 30; lat += 2) {
    const len = lat % 10 === 0 ? 5 : 2;
    ticks += 'M' + (xOf(-90) - len) + ' ' + yOf(lat) + 'H' + xOf(-90) + 'M' + xOf(90) + ' ' + yOf(lat) + 'H' + (xOf(90) + len);
  }
  el('path', axes, {d: ticks, 'stroke-width': 1.8});
  el('rect', axes, {x: xOf(-90), y: yOf(30), width: 180 * pxPerLon, height: 40 * pxPerLat, 'stroke-width': 3.2});

  if (panel.col === 0) {
    latTicks.forEach(function (lat, i) {
      const t = el('text', g, {transform: 'translate(74 ' + (yOf(lat) + 12) + ') scale(0.945 1)', 'text-anchor': 'end', 'font-size': 36});
      t.textContent = latTickLabels[i];
      
      
    });
  }
  if (panel.row === 3) {
    lonTicks.forEach(function (lon, i) {
      const t = el('text', g, {transform: 'translate(' + xOf(lon) + ' 917.5) scale(0.955 1)', 'text-anchor': 'middle', 'font-size': 36});
      t.textContent = lonTickLabels[i];
      
      
    });
  }
});

/* colour bar */
const barRoot = document.getElementById('colorbar');
const barLeft = 229.5, barTop = 979, barBoxW = 54.9, barH = 23;
bandColors.forEach(function (color, i) {
  let fill = color;
  if (i === 0) fill = 'url(#speck-dark)';
  if (i === bandColors.length - 1) fill = 'url(#speck-brown)';
  const box = el('rect', barRoot, {x: barLeft + i * barBoxW, y: barTop, width: barBoxW, height: barH, fill: fill, stroke: '#222', 'stroke-width': 1.5});
  
  
});
colorbarLabels.forEach(function (label, i) {
  const t = el('text', barRoot, {transform: 'translate(' + (barLeft + (i + 1) * barBoxW) + ' 1030) scale(0.94 1)', 'text-anchor': 'middle', 'font-size': 32});
  t.textContent = label;
  
  
});
</script>
</body>
</html>
